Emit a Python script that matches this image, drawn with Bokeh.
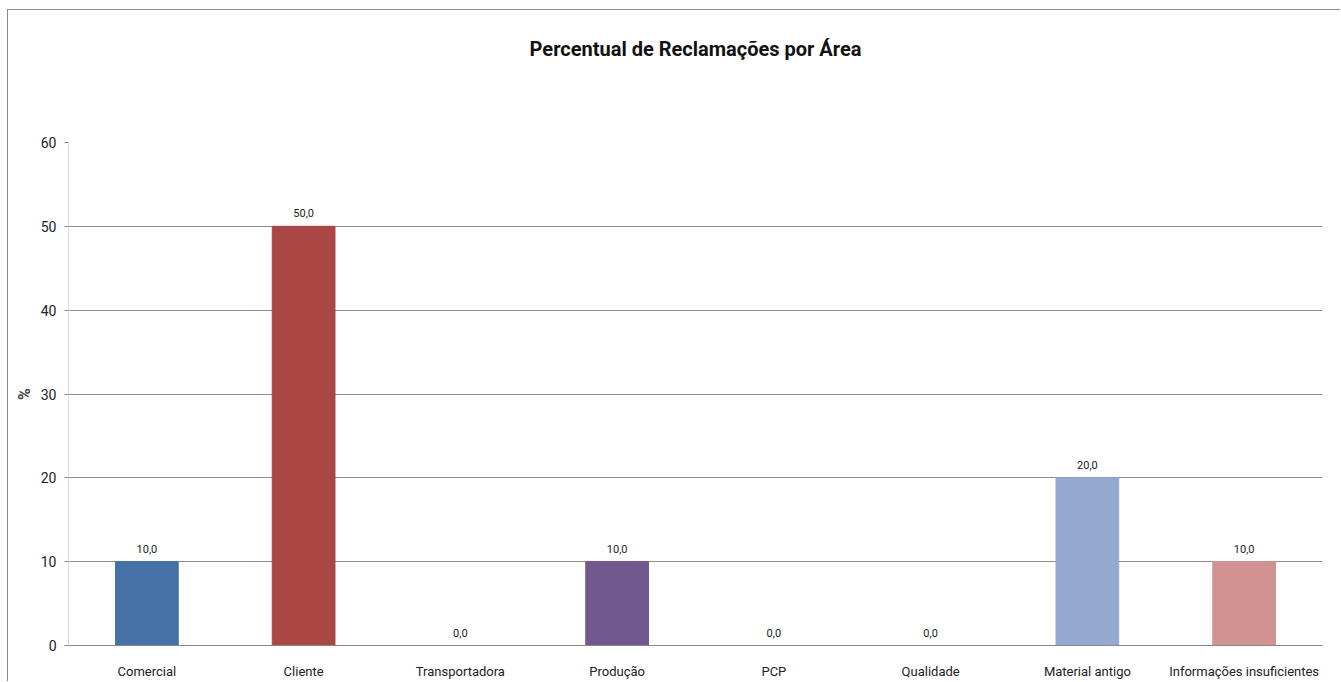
from bokeh.plotting import figure
from bokeh.models import ColumnDataSource, LabelSet, FactorRange, FixedTicker, Title
from bokeh.core.properties import value
from bokeh.embed import file_html
from bokeh.resources import INLINE

# Complaint share per area (%)
areas = ["Comercial", "Cliente", "Transportadora", "Produção", "PCP",
         "Qualidade", "Material antigo", "Informações insuficientes"]
percent = [10.0, 50.0, 0.0, 10.0, 0.0, 0.0, 20.0, 10.0]
colors = ["#4572A7", "#AA4643", "#89A54E", "#71588F", "#4198AF",
          "#DB843D", "#93A9CF", "#D19392"]
y_ticks = [0, 10, 20, 30, 40, 50, 60]

FONT = "Roboto"

labels = [f"{v:.1f}".replace(".", ",") for v in percent]
source = ColumnDataSource(dict(area=areas, pct=percent, color=colors, label=labels))

p = figure(
    x_range=FactorRange(*areas, range_padding=0),
    y_range=(0, 60),
    width=1333, height=672,
    output_backend="svg", toolbar_location=None,
    min_border_left=60, min_border_right=19,
    min_border_top=131, min_border_bottom=37,
)
p.styles = {"margin-left": "7px", "margin-top": "9px",
            "border-left": "1px solid #8a8a8a", "border-top": "1px solid #8a8a8a"}
p.outline_line_color = None
p.background_fill_color = "white"
p.border_fill_color = "white"

# blank band between the plotting area and the title
p.add_layout(Title(text=" ", text_font_size="2px", standoff=54), "above")

chart_title = Title(text="Percentual de Reclamações por Área", align="center",
                    text_font=FONT, text_font_size="20px", text_font_style="bold",
                    text_color="#111111", standoff=48)
p.add_layout(chart_title, "above")

p.vbar(x="area", top="pct", width=0.4, fill_color="color", line_color="color",
       source=source)

p.add_layout(LabelSet(x="area", y="pct", text="label", source=source,
                      text_align="center", text_baseline="bottom",
                      y_offset=9, text_font=value(FONT), text_font_size="11px",
                      text_color="#222222"))

# Y axis
p.yaxis.ticker = FixedTicker(ticks=y_ticks)
p.yaxis.axis_line_color = "#d9d9d9"
p.yaxis.major_tick_line_color = "#888888"
p.yaxis.major_tick_out = 4
p.yaxis.major_tick_in = 0
p.yaxis.minor_tick_line_color = None
p.yaxis.major_label_text_font = FONT
p.yaxis.major_label_text_font_size = "14px"
p.yaxis.major_label_text_color = "#222222"
p.yaxis.major_label_standoff = 8
p.yaxis.axis_label = "%"
p.yaxis.axis_label_text_font = FONT
p.yaxis.axis_label_text_font_size = "16px"
p.yaxis.axis_label_text_font_style = "bold"
p.yaxis.axis_label_standoff = 4

# X axis
p.xaxis.axis_line_color = "#888888"
p.xaxis.major_tick_line_color = None
p.xaxis.minor_tick_line_color = None
p.xaxis.major_label_text_font = FONT
p.xaxis.major_label_text_font_size = "13px"
p.xaxis.major_label_text_color = "#222222"
p.xaxis.major_label_standoff = 12

p.xgrid.grid_line_color = None
p.ygrid.grid_line_color = "#8c8c8c"
p.ygrid.ticker = FixedTicker(ticks=y_ticks)

open("out.html", "w").write(file_html(p, INLINE))
